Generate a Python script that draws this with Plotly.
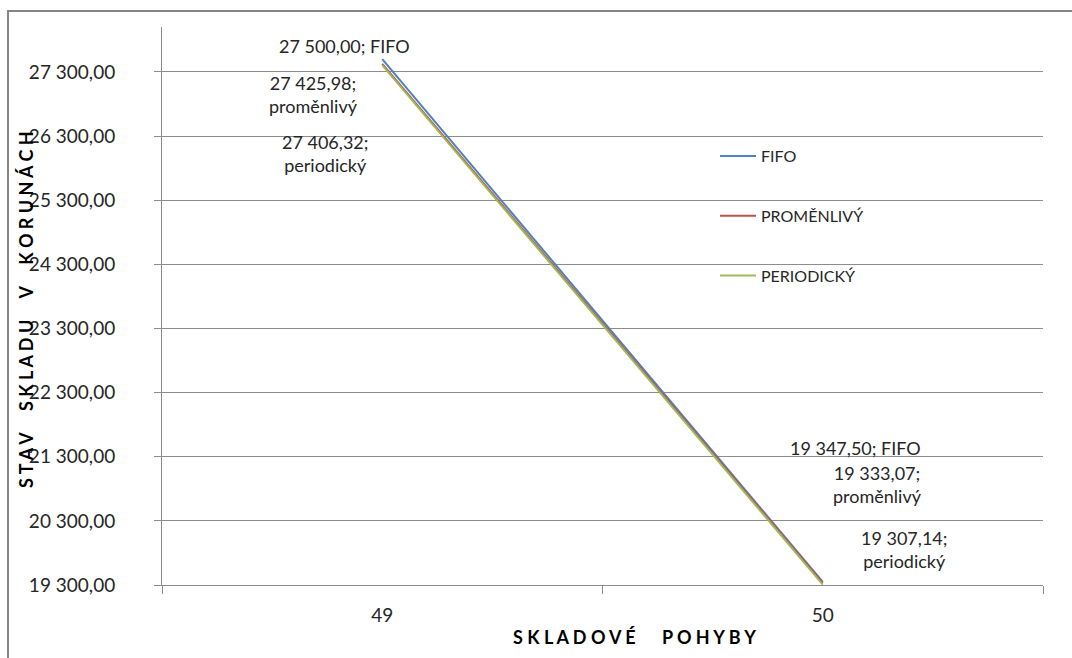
import plotly.graph_objects as go

# Inventory movements (category axis) and stock value per valuation method
moves = ["49", "50"]
fifo = [27500.00, 19347.50]
promenlivy = [27425.98, 19333.07]
periodicky = [27406.32, 19307.14]

series_names = ["FIFO", "PROMĚNLIVÝ", "PERIODICKÝ"]
label_names = ["FIFO", "proměnlivý", "periodický"]
series_colors = ["#4F81BD", "#C0504D", "#9BBB59"]

y_ticks = [19300, 20300, 21300, 22300, 23300, 24300, 25300, 26300, 27300]
y_range = [19300, 28000]

FONT = "Lato"
TEXT = "#262626"
GRID = "#8C8C8C"


def cz(v):
    """Format a number with a space thousands separator and decimal comma."""
    s = f"{v:,.2f}"
    return s.replace(",", " ").replace(".", ",")


fig = go.Figure()
all_series = [fifo, promenlivy, periodicky]
for vals, name, color in zip(all_series, series_names, series_colors):
    fig.add_trace(go.Scatter(
        x=moves, y=vals, name=name, mode="lines",
        line=dict(color=color, width=2),
        legendgroup=name,
    ))

# data labels placed beside each end point (pixel offsets from the point)
label_offsets = {
    (0, 0): (-38, 13), (1, 0): (-69, -31), (2, 0): (-57, -88),
    (0, 1): (33, 134), (1, 1): (55, 98), (2, 1): (81, 35),
}
for (si, pi), (dx, dy) in label_offsets.items():
    v = all_series[si][pi]
    sep = " " if si == 0 else "<br>"
    fig.add_annotation(
        x=pi, y=v, xref="x", yref="y",
        text=f"{cz(v)};{sep}{label_names[si]}",
        showarrow=False, xshift=dx, yshift=dy,
        xanchor="center", yanchor="middle", align="center",
        font=dict(family=FONT, size=18, color=TEXT),
    )


# axis titles with spaced lettering
NB = "\u00a0"


def spaced(t, word_gap=6):
    words = [NB.join(w) for w in t.split(" ")]
    return (NB * word_gap).join(words)


fig.add_annotation(
    x=(26 - 162) / 881, y=(585 - 310) / 558, xref="paper", yref="paper",
    text=f"<b>{spaced('STAV SKLADU V KORUNÁCH', 5)}</b>", textangle=-90,
    showarrow=False, xanchor="center", yanchor="middle",
    font=dict(family=FONT, size=18, color="#000000"),
)
fig.add_annotation(
    x=(634 - 162) / 881, y=(585 - 637) / 558, xref="paper", yref="paper",
    text=f"<b>{spaced('SKLADOVÉ POHYBY', 6)}</b>",
    showarrow=False, xanchor="center", yanchor="middle",
    font=dict(family=FONT, size=18, color="#000000"),
)

# chart-area frame
fig.add_shape(
    type="rect", xref="paper", yref="paper",
    x0=(8 - 162) / 881, x1=(1100 - 162) / 881,
    y0=(585 - 700) / 558, y1=(585 - 11) / 558,
    line=dict(color="#868686", width=2), fillcolor="rgba(0,0,0,0)",
    layer="below",
)

fig.update_layout(
    width=1072, height=658,
    margin=dict(l=162, r=29, t=27, b=73),
    paper_bgcolor="white", plot_bgcolor="white",
    font=dict(family=FONT, size=18, color=TEXT),
    showlegend=True,
    legend=dict(
        x=(715 - 162) / 881, y=(585 - 139) / 558,
        xanchor="left", yanchor="top",
        bgcolor="rgba(0,0,0,0)",
        font=dict(family=FONT, size=16, color=TEXT),
        tracegroupgap=36, itemwidth=36,
    ),
    xaxis=dict(
        type="category", range=[-0.5, 1.5],
        tickson="boundaries", ticks="outside", ticklen=8,
        tickcolor=GRID, showline=True, linecolor=GRID, linewidth=1,
        showgrid=False, zeroline=False, ticklabelstandoff=13,
        tickfont=dict(family=FONT, size=19, color=TEXT),
    ),
    yaxis=dict(
        range=y_range, tickvals=y_ticks,
        ticktext=[cz(v) for v in y_ticks],
        ticks="outside", ticklen=7, tickcolor=GRID,
        showline=True, linecolor=GRID, linewidth=1,
        showgrid=True, gridcolor=GRID, gridwidth=1,
        zeroline=False, ticklabelstandoff=35,
        tickfont=dict(family=FONT, size=19, color=TEXT),
    ),
)

fig.write_html("out.html")
